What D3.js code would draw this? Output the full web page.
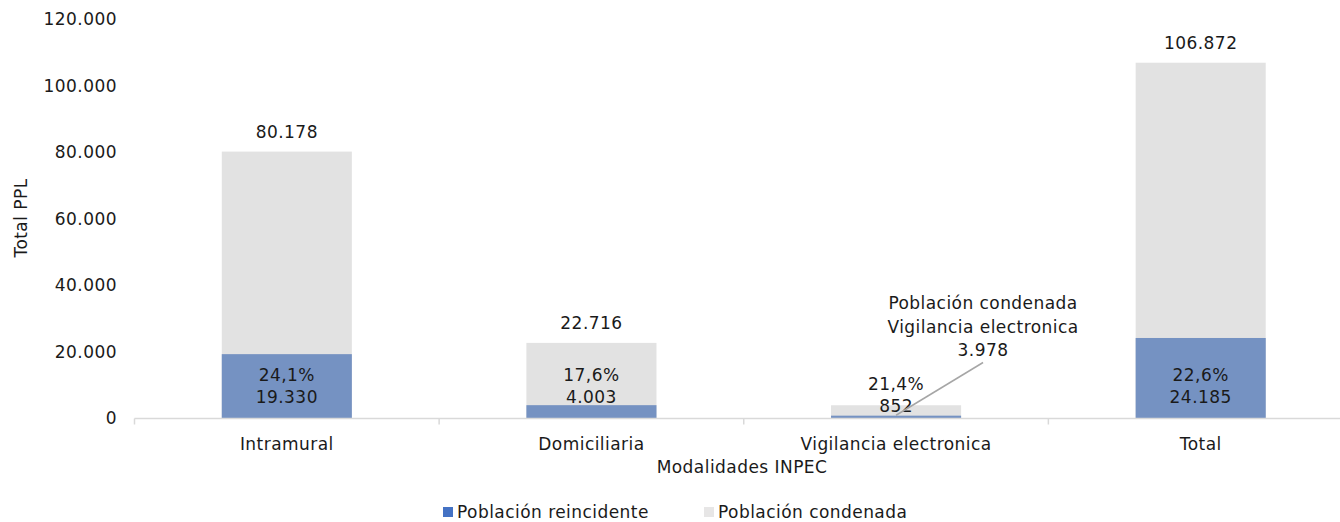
<!DOCTYPE html>
<html>
<head>
<meta charset="utf-8">
<script src="https://cdn.jsdelivr.net/npm/d3@7"></script>
<style>
  body { margin: 0; background: #fff; }
  svg text { font-family: "DejaVu Sans", Verdana, sans-serif; fill: #1a1a1a; }
</style>
</head>
<body>
<div id="chart"></div>
<script>
// data
var categories = ["Intramural", "Domiciliaria", "Vigilancia electronica", "Total"];
var condenada = [80178, 22716, 3978, 106872];
var reincidente = [19330, 4003, 852, 24185];
var yTicks = [0, 20000, 40000, 60000, 80000, 100000, 120000];
var seriesNames = ["Población reincidente", "Población condenada"];

var W = 1340, H = 522;
var fontSize = 17, spacing = "0.45px";

var locale = d3.formatLocale({ decimal: ",", thousands: ".", grouping: [3], currency: ["$", ""] });
var fmtNum = locale.format(",d");
var fmtPct = locale.format(".1%");

var svg = d3.select("#chart").append("svg").attr("width", W).attr("height", H);

var x = d3.scaleBand().domain(categories).range([134.5, 1353]).paddingInner(0.573).paddingOuter(0.2865);
var y = d3.scaleLinear().domain([0, 120000]).range([418.5, 19]);

function txt(sel) {
    return sel.style("font-size", fontSize + "px").style("letter-spacing", spacing);
}

// y axis labels (no axis line)
var yAxis = d3.axisLeft(y).tickValues(yTicks).tickSize(0).tickPadding(0).tickFormat(d => fmtNum(d));
var gy = svg.append("g").attr("transform", "translate(117,0)").call(yAxis);
gy.select(".domain").remove();
gy.selectAll("text").call(txt).attr("fill", "#1a1a1a");

// bars: grey total behind, blue reincidente in front
svg.append("g").selectAll("rect").data(categories).enter().append("rect")
    .attr("x", d => x(d)).attr("width", x.bandwidth())
    .attr("y", (d, i) => y(condenada[i])).attr("height", (d, i) => y(0) - y(condenada[i]))
    .attr("fill", "#e2e2e2");
svg.append("g").selectAll("rect").data(categories).enter().append("rect")
    .attr("x", d => x(d)).attr("width", x.bandwidth())
    .attr("y", (d, i) => y(reincidente[i])).attr("height", (d, i) => y(0) - y(reincidente[i]))
    .attr("fill", "#7592c2");

// x axis line with ticks at band boundaries
var bounds = categories.map(d => x(d) - x.step() * x.paddingInner() / 2);
svg.append("line").attr("x1", x.range()[0]).attr("x2", x.range()[1])
    .attr("y1", y(0)).attr("y2", y(0)).attr("stroke", "#d9d9d9").attr("stroke-width", 1.5);
svg.append("g").selectAll("line").data(bounds).enter().append("line")
    .attr("x1", d => d).attr("x2", d => d).attr("y1", y(0)).attr("y2", y(0) + 6)
    .attr("stroke", "#d9d9d9").attr("stroke-width", 1.5);

// category labels
var xAxis = d3.axisBottom(x).tickSize(0).tickPadding(19);
var gx = svg.append("g").attr("transform", "translate(0," + y(0) + ")").call(xAxis);
gx.select(".domain").remove();
gx.selectAll("text").call(txt).attr("fill", "#1a1a1a");

// axis titles
svg.append("text").attr("x", 742).attr("y", 473).attr("text-anchor", "middle").call(txt).text("Modalidades INPEC");
svg.append("text").attr("transform", "translate(27,218) rotate(-90)").attr("text-anchor", "middle").call(txt).text("Total PPL");

// total labels above grey bars (the small bar uses a callout instead)
var lbl = svg.append("g");
categories.forEach(function(c, i) {
    var cx = x(c) + x.bandwidth() / 2;
    if (i !== 2) {
        lbl.append("text").attr("x", cx).attr("y", y(condenada[i]) - 14)
            .attr("text-anchor", "middle").call(txt).text(fmtNum(condenada[i]));
    }
    var shift = i === 2 ? 9 : 0;
    lbl.append("text").attr("x", cx).attr("y", y(0) - 38 + shift)
        .attr("text-anchor", "middle").call(txt).text(fmtPct(reincidente[i] / condenada[i]));
    lbl.append("text").attr("x", cx).attr("y", y(0) - 16 + shift)
        .attr("text-anchor", "middle").call(txt).text(fmtNum(reincidente[i]));
});

// callout for Vigilancia electronica
var vc = x(categories[2]) + x.bandwidth() / 2;
svg.append("line").attr("x1", vc).attr("y1", y(condenada[2]) + 10)
    .attr("x2", vc + 87).attr("y2", 362.5).attr("stroke", "#a6a6a6").attr("stroke-width", 1.5);
var call = svg.append("text").attr("text-anchor", "middle").call(txt);
["Población condenada", "Vigilancia electronica", fmtNum(condenada[2])].forEach(function(t, i) {
    call.append("tspan").attr("x", vc + 87).attr("y", 309 + i * 23.5).text(t);
});

// legend
var legColors = ["#4472c4", "#e7e6e6"];
var legX = [443, 704];
var leg = svg.append("g");
seriesNames.forEach(function(s, i) {
    leg.append("rect").attr("x", legX[i]).attr("y", 507).attr("width", 10).attr("height", 10).attr("fill", legColors[i]);
    leg.append("text").attr("x", legX[i] + 14).attr("y", 518).call(txt).text(s);
});
</script>
</body>
</html>
